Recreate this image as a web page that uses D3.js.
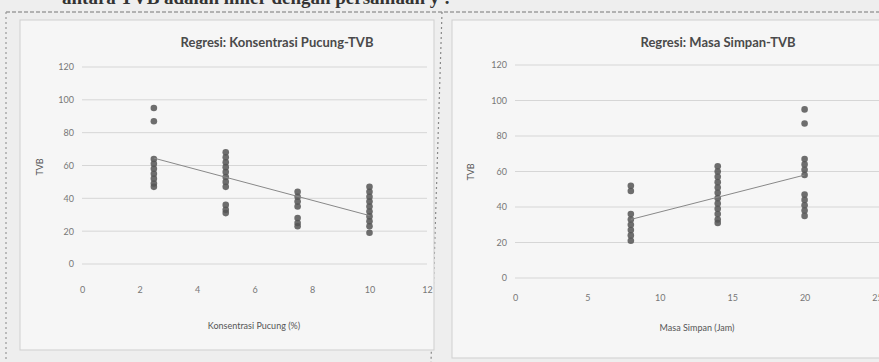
<!DOCTYPE html>
<html>
<head>
<meta charset="utf-8">
<script src="https://cdn.jsdelivr.net/npm/d3@7"></script>
<style>
  body { margin: 0; background: #eeeeee; }
  svg { display: block; }
</style>
</head>
<body>
<svg id="chart" width="879" height="362"></svg>
<script>
// nilai TVB per tingkat konsentrasi pucung (%)
const pucungLevels = [2.5, 5, 7.5, 10];
const pucungTVB = [
    [95, 87, 64, 61, 58, 55, 52, 49, 47],
    [68, 65, 62, 59, 56, 53, 50, 47, 36, 33, 31],
    [44, 41, 38, 35, 28, 25, 23],
    [47, 44, 41, 38, 35, 32, 29, 26, 23, 19]
];
const pucungTrendX = [2.5, 10];
const pucungTrendY = [64.5, 29.5];
const pucungTicks = [0, 2, 4, 6, 8, 10, 12];

// nilai TVB per masa simpan (jam)
const simpanLevels = [8, 14, 20];
const simpanTVB = [
    [52, 49, 36, 33, 30, 27, 24, 21],
    [63, 60, 57, 54, 51, 48, 45, 42, 39, 36, 33, 31],
    [95, 87, 67, 64, 61, 58, 47, 44, 41, 38, 35]
];
const simpanTrendX = [8, 20];
const simpanTrendY = [33, 58];
const simpanTicks = [0, 5, 10, 15, 20, 25];

const tvbTicks = [0, 20, 40, 60, 80, 100, 120];

const svg = d3.select("#chart");
const font = "Lato, 'Open Sans', sans-serif";

// potongan teks halaman di atas (terpotong)
svg.append("text")
    .attr("x", 62).attr("y", 4)
    .style("font-family", "'Liberation Serif', serif")
    .style("font-size", "19px")
    .style("font-weight", "bold")
    .style("fill", "#333")
    .text("antara TVB adalah linier dengan persamaan y :");

// garis putus-putus halaman
svg.append("line")
    .attr("x1", 6).attr("y1", 12).attr("x2", 879).attr("y2", 12)
    .attr("stroke", "#777").attr("stroke-width", 1.2)
    .attr("stroke-dasharray", "4,2");
svg.append("line")
    .attr("x1", 6).attr("y1", 12).attr("x2", 6).attr("y2", 362)
    .attr("stroke", "#999").attr("stroke-width", 1.2)
    .attr("stroke-dasharray", "2,3");
svg.append("line")
    .attr("x1", 442).attr("y1", 12).attr("x2", 431).attr("y2", 362)
    .attr("stroke", "#888").attr("stroke-width", 1.2)
    .attr("stroke-dasharray", "2,3");

function drawPanel(cfg) {
    const g = svg.append("g");

    g.append("rect")
        .attr("x", cfg.box[0]).attr("y", cfg.box[1])
        .attr("width", cfg.box[2]).attr("height", cfg.box[3])
        .attr("fill", "#f6f6f6")
        .attr("stroke", "#cfcfcf");

    const x = d3.scaleLinear().domain(cfg.xDomain).range(cfg.xRange);
    const y = d3.scaleLinear().domain([0, 120]).range(cfg.yRange);

    // garis grid horizontal
    g.selectAll(".grid")
        .data(tvbTicks)
        .enter().append("line")
        .attr("x1", cfg.xRange[0]).attr("x2", cfg.gridEnd)
        .attr("y1", d => y(d)).attr("y2", d => y(d))
        .attr("stroke", "#d6d6d6").attr("stroke-width", 1);

    const yAxis = g.append("g")
        .attr("transform", `translate(${cfg.xRange[0] - 4},0)`)
        .call(d3.axisLeft(y).tickValues(tvbTicks).tickSize(0).tickPadding(4));
    const xAxis = g.append("g")
        .attr("transform", `translate(0,${cfg.xLabelY})`)
        .call(d3.axisBottom(x).tickValues(cfg.ticks).tickSize(0).tickPadding(0));
    [xAxis, yAxis].forEach(a => {
        a.select(".domain").remove();
        a.selectAll("text")
            .style("font-family", font)
            .style("font-size", "9px")
            .style("fill", "#777");
    });

    // titik data
    cfg.levels.forEach((lv, i) => {
        g.selectAll(null)
            .data(cfg.values[i])
            .enter().append("circle")
            .attr("cx", x(lv))
            .attr("cy", d => y(d))
            .attr("r", 3.3)
            .attr("fill", "#555")
            .attr("opacity", 0.85);
    });

    // garis regresi
    const line = d3.line().x(d => x(d[0])).y(d => y(d[1]));
    g.append("path")
        .datum(d3.zip(cfg.trendX, cfg.trendY))
        .attr("d", line)
        .attr("fill", "none")
        .attr("stroke", "#888")
        .attr("stroke-width", 1);

    g.append("text")
        .attr("x", cfg.titleX).attr("y", 47)
        .attr("text-anchor", "middle")
        .style("font-family", font)
        .style("font-size", "13px")
        .style("font-weight", "bold")
        .style("fill", "#4a4a4a")
        .text(cfg.title);

    g.append("text")
        .attr("transform", `translate(${cfg.yTitle[0]},${cfg.yTitle[1]}) rotate(-90)`)
        .attr("text-anchor", "middle")
        .style("font-family", font)
        .style("font-size", "9px")
        .style("fill", "#555")
        .text("TVB");

    g.append("text")
        .attr("x", cfg.xTitle[0]).attr("y", cfg.xTitle[1])
        .attr("text-anchor", "middle")
        .style("font-family", font)
        .style("font-size", "9px")
        .style("fill", "#555")
        .text(cfg.xLabel);
}

drawPanel({
    box: [20, 20, 414, 330],
    xDomain: [0, 12], xRange: [82, 427], gridEnd: 427,
    yRange: [264, 67],
    xLabelY: 287,
    ticks: pucungTicks,
    levels: pucungLevels, values: pucungTVB,
    trendX: pucungTrendX, trendY: pucungTrendY,
    title: "Regresi: Konsentrasi Pucung-TVB", titleX: 277,
    yTitle: [43, 167],
    xLabel: "Konsentrasi Pucung (%)", xTitle: [254, 329]
});

drawPanel({
    box: [452, 20, 440, 338],
    xDomain: [0, 25], xRange: [515, 877], gridEnd: 879,
    yRange: [278, 65],
    xLabelY: 295,
    ticks: simpanTicks,
    levels: simpanLevels, values: simpanTVB,
    trendX: simpanTrendX, trendY: simpanTrendY,
    title: "Regresi: Masa Simpan-TVB", titleX: 718,
    yTitle: [474, 172],
    xLabel: "Masa Simpan (Jam)", xTitle: [697, 331]
});
</script>
</body>
</html>
